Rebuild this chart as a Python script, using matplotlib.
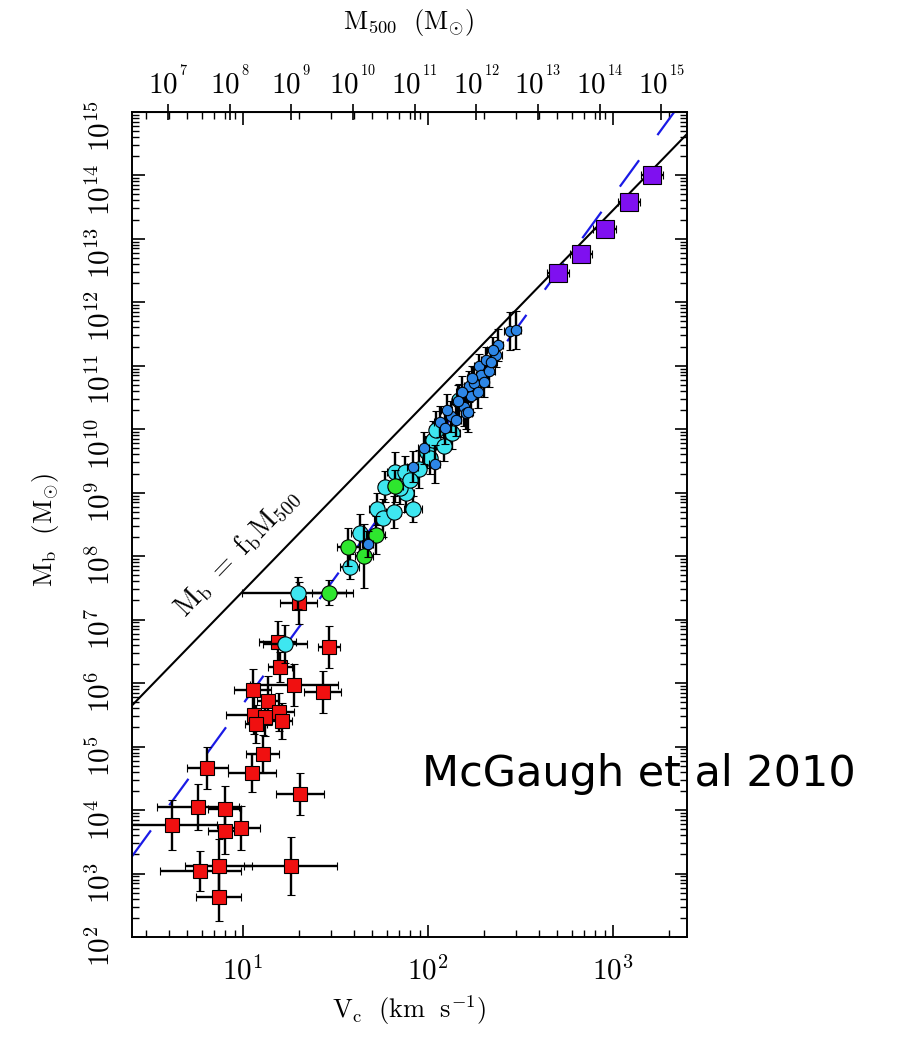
import numpy as np
import matplotlib
matplotlib.use('Agg')
import matplotlib.pyplot as plt
from matplotlib.ticker import LogLocator, FuncFormatter, NullLocator, NullFormatter

plt.rcParams['mathtext.fontset'] = 'cm'
plt.rcParams['font.family'] = 'DejaVu Serif'

# values: log10 Vc (km/s), log10 Mb (Msun), errors in dex
# red squares (dwarf spheroidals)
red_logv = [1.302, 1.188, 1.464, 1.201, 1.275, 1.431, 1.053, 1.134, 1.058, 1.116,
            1.194, 1.212, 1.068, 1.107, 1.050, 0.806, 1.309, 0.756, 0.900, 0.617,
            0.900, 0.990, 0.769, 0.868, 1.257, 0.868]
red_logm = [7.268, 6.653, 6.565, 6.250, 5.966, 5.865, 5.892, 5.724, 5.498, 5.471,
            5.550, 5.404, 5.356, 4.884, 4.589, 4.668, 4.258, 4.053, 4.012, 3.765,
            3.675, 3.713, 3.040, 3.119, 3.119, 2.635]
red_dv = [0.10, 0.10, 0.06, 0.065, 0.24, 0.10, 0.10, 0.06, 0.15, 0.08,
          0.08, 0.055, 0.06, 0.09, 0.13, 0.11, 0.13, 0.22, 0.09, 0.24,
          0.09, 0.10, 0.22, 0.18, 0.25, 0.12]
red_dm = [0.33, 0.32, 0.33, 0.24, 0.33, 0.33, 0.33, 0.38, 0.30, 0.30,
          0.30, 0.28, 0.30, 0.30, 0.30, 0.33, 0.33, 0.36, 0.36, 0.39,
          0.36, 0.35, 0.32, 0.43, 0.46, 0.39]

# cyan circles (gas rich galaxies)
cyan_logv = [1.296, 1.228, 1.576, 1.634, 1.723, 1.759, 1.815, 1.918, 1.770, 1.882,
             1.851, 1.819, 1.873, 1.950, 1.997, 2.026, 2.084, 2.131, 2.044, 2.170,
             1.905, 2.010]
cyan_logm = [7.416, 6.617, 7.835, 8.371, 8.740, 8.598, 8.692, 8.744, 9.096, 9.001,
             9.075, 9.332, 9.332, 9.375, 9.643, 9.832, 9.742, 9.937, 9.989, 10.462,
             9.200, 9.550]
cyan_dv = [0.30, 0.12, 0.05, 0.05, 0.04, 0.05, 0.04, 0.05, 0.04, 0.04,
           0.04, 0.04, 0.04, 0.04, 0.04, 0.04, 0.04, 0.04, 0.04, 0.04,
           0.04, 0.04]
cyan_dm = [0.25, 0.30, 0.20, 0.30, 0.25, 0.30, 0.25, 0.20, 0.25, 0.30,
           0.25, 0.30, 0.25, 0.30, 0.25, 0.30, 0.25, 0.25, 0.30, 0.25,
           0.25, 0.25]

# green circles
green_logv = [1.464, 1.566, 1.653, 1.716, 1.824]
green_logm = [7.425, 8.150, 8.004, 8.335, 9.107]
green_dv = [0.09, 0.06, 0.05, 0.05, 0.04]
green_dm = [0.20, 0.30, 0.50, 0.30, 0.25]

# blue circles (star dominated spirals)
blue_logv = [1.675, 1.918, 1.976, 2.035, 2.062, 2.125, 2.197, 2.206, 2.234, 2.224,
             2.278, 2.251, 2.288, 2.332, 2.315, 2.377, 2.369, 2.215, 2.441, 2.473,
             2.149, 2.089, 2.181, 2.268, 2.343, 2.100, 2.160, 2.240, 2.300, 2.350]
blue_logm = [8.188, 9.411, 9.701, 9.449, 10.120, 10.199, 10.356, 10.252, 10.514, 10.672,
             10.987, 10.725, 10.856, 10.908, 11.092, 11.329, 11.171, 10.262, 11.549, 11.565,
             10.147, 10.021, 10.588, 10.588, 11.061, 10.300, 10.450, 10.800, 10.750, 11.250]
blue_dv = [0.03] * 30
blue_dm = [0.20, 0.25, 0.25, 0.30, 0.25, 0.25, 0.30, 0.25, 0.25, 0.25,
           0.20, 0.25, 0.20, 0.25, 0.20, 0.25, 0.20, 0.30, 0.30, 0.30,
           0.25, 0.25, 0.25, 0.25, 0.20, 0.25, 0.25, 0.20, 0.25, 0.20]

# purple squares (clusters)
clus_logv = [2.702, 2.828, 2.954, 3.085, 3.210]
clus_logm = [12.459, 12.763, 13.152, 13.577, 14.008]
clus_dv = [0.06] * 5
clus_dm = [0.0] * 5

# model lines
M500_NORM = 10 ** 5.2185   # M500 = M500_NORM * Vc^3
FB = 0.17                  # cosmic baryon fraction
BTF_A = 47.0               # Mb = A Vc^4

fig = plt.figure(figsize=(8.97, 10.37), dpi=100)
ax = fig.add_axes([0.1468, 0.0964, 0.6187, 0.7959])
ax.set_xscale('log')
ax.set_yscale('log')
ax.set_xlim(2.5, 2500)
ax.set_ylim(1e2, 1e15)


def plot_group(logv, logm, dv, dm, fmt, color, ms, z):
    logv, logm = np.array(logv), np.array(logm)
    dv, dm = np.array(dv), np.array(dm)
    v, m = 10 ** logv, 10 ** logm
    xerr = [v - 10 ** (logv - dv), 10 ** (logv + dv) - v]
    yerr = [m - 10 ** (logm - dm), 10 ** (logm + dm) - m]
    ax.errorbar(v, m, xerr=xerr, yerr=yerr, fmt=fmt, ms=ms, mfc=color, mec='k',
                mew=0.8, ecolor='k', elinewidth=1.7, capsize=3, capthick=1.7,
                zorder=z)


vline = np.array([2.5, 2500.0])
ax.plot(vline, FB * M500_NORM * vline ** 3, color='k', lw=1.5, zorder=2)
ax.plot(vline, BTF_A * vline ** 4, color='#1a1ae6', lw=1.6, dashes=(14.7, 14),
        zorder=2)

plot_group(red_logv, red_logm, red_dv, red_dm, 's', '#f01010', 10, 3)
plot_group(cyan_logv, cyan_logm, cyan_dv, cyan_dm, 'o', '#3ee6f0', 11, 4)
plot_group(green_logv, green_logm, green_dv, green_dm, 'o', '#2ee62e', 11, 5)
plot_group(blue_logv, blue_logm, blue_dv, blue_dm, 'o', '#2d86e6', 7.5, 6)
plot_group(clus_logv, clus_logm, clus_dv, clus_dm, 's', '#7f10f0', 12.5, 7)

ax.text(10 ** 0.970, 10 ** 8.05, r'$\mathrm{M_b\ =\ f_b M_{500}}$', rotation=46,
        ha='center', va='center', fontsize=20, rotation_mode='anchor')

fmt_exp = FuncFormatter(lambda val, pos: r'$10^{%d}$' % round(np.log10(val)))
for axis in (ax.xaxis, ax.yaxis):
    axis.set_major_locator(LogLocator(base=10, numticks=20))
    axis.set_minor_locator(LogLocator(base=10, subs=np.arange(2, 10), numticks=20))
    axis.set_major_formatter(fmt_exp)
    axis.set_minor_formatter(NullFormatter())

ax.tick_params(which='both', direction='in', top=True, right=True)
ax.tick_params(which='major', length=9, width=1.2)
ax.tick_params(which='minor', length=5, width=1.0)
ax.tick_params(axis='x', which='major', pad=14, labelsize=21)
ax.tick_params(axis='y', which='major', pad=12, labelsize=21, labelrotation=90)
for sp in ax.spines.values():
    sp.set_linewidth(1.4)

secax = ax.secondary_xaxis('top', functions=(lambda v: M500_NORM * np.clip(v, 1e-9, None) ** 3,
                                             lambda m: (np.clip(m, 1e-30, None) / M500_NORM) ** (1 / 3)))
secax.xaxis.set_major_locator(LogLocator(base=10, numticks=20))
secax.xaxis.set_minor_locator(NullLocator())
secax.xaxis.set_major_formatter(FuncFormatter(lambda val, pos: r'$10^{^{%d}}$' % round(np.log10(val))))
secax.tick_params(which='major', direction='inout', length=12, width=1.2, pad=2, labelsize=21)

ax.set_xlabel(r'$\mathrm{V_c\ \ (km\ \ s^{-1})}$', fontsize=19, va='center')
ax.xaxis.set_label_coords(0.5, -0.088)
ax.set_ylabel(r'$\mathrm{M_b\ \ (M_{\odot})}$', fontsize=19, va='center')
ax.yaxis.set_label_coords(-0.156, 0.493)
secax.set_xlabel(r'$\mathrm{M_{500}\ \ (M_{\odot})}$', fontsize=19, labelpad=26)

fig.text(422 / 897, 1 - 786 / 1037, 'McGaugh et al 2010', fontsize=31,
         family='DejaVu Sans', ha='left', va='baseline')

fig.savefig('out.png', dpi=100)
